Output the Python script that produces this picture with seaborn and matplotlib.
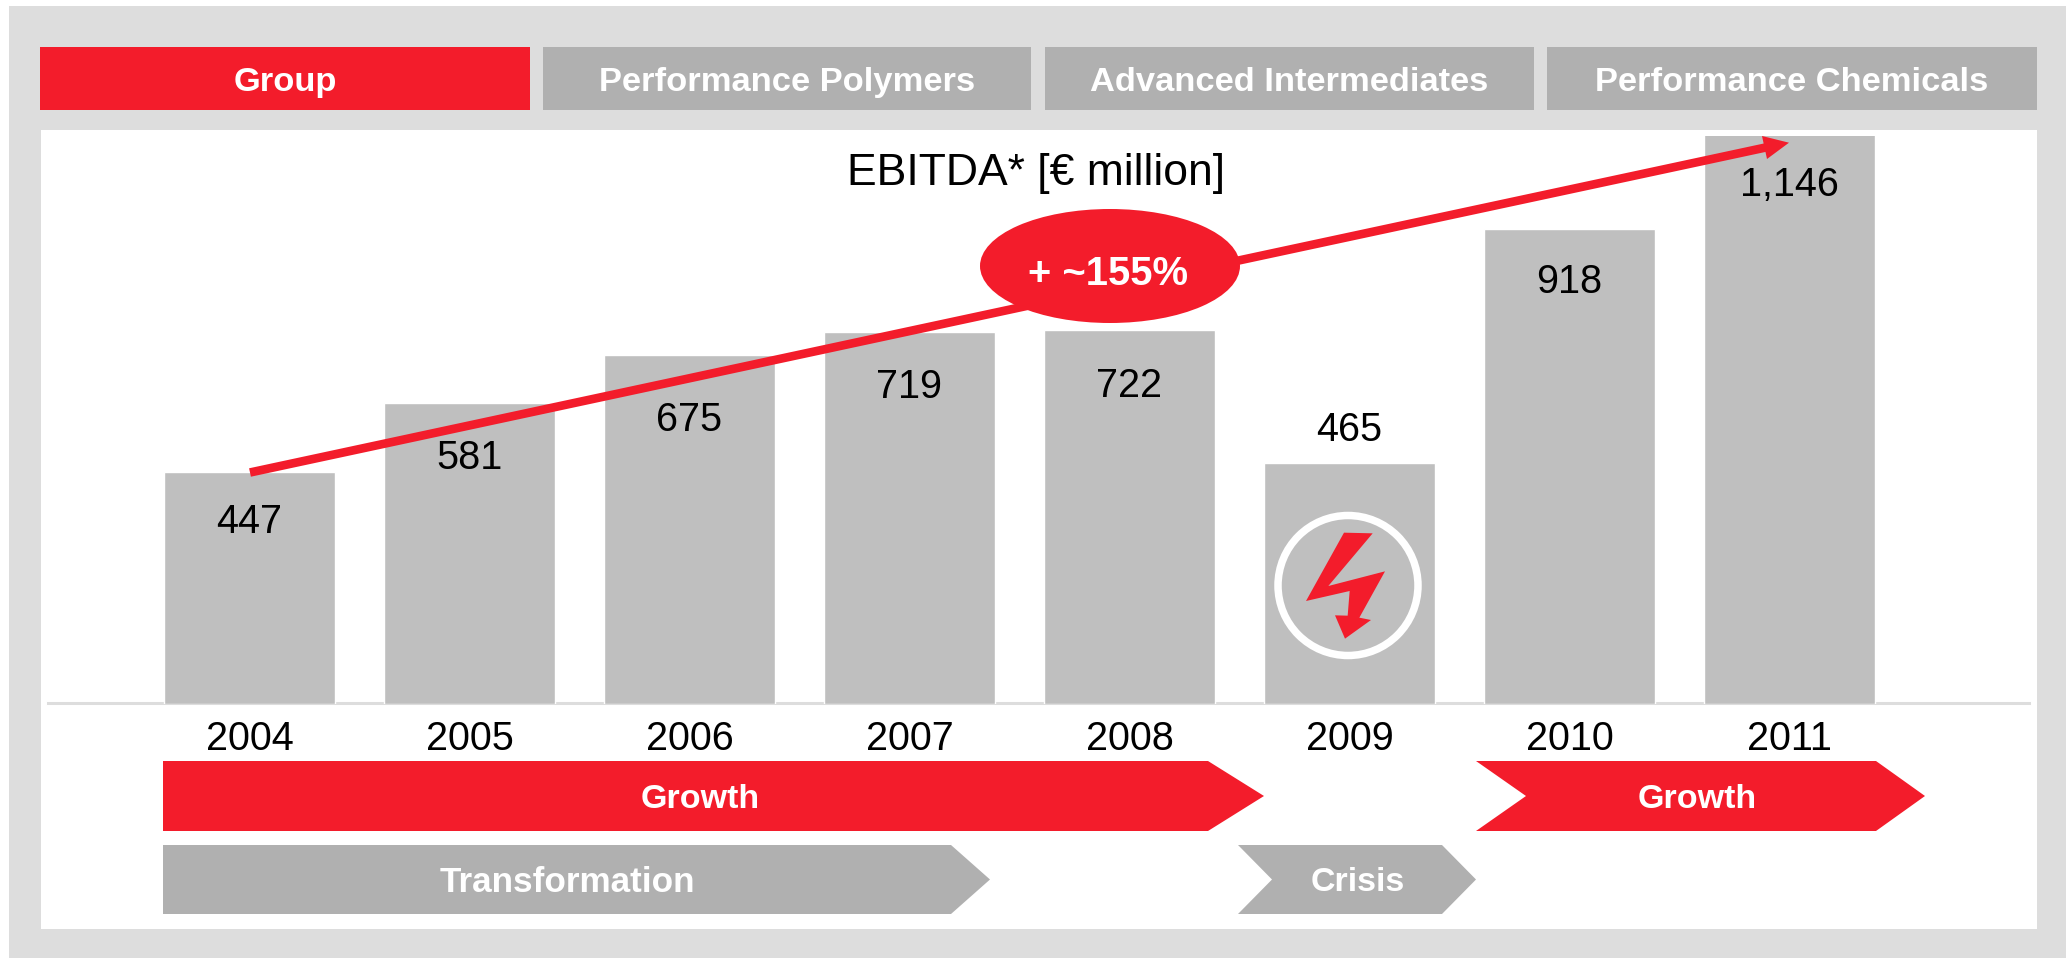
import matplotlib
matplotlib.use("Agg")
import matplotlib.pyplot as plt
from matplotlib.patches import Polygon, Ellipse, Circle, Rectangle
import seaborn as sns

years = ["2004", "2005", "2006", "2007", "2008", "2009", "2010", "2011"]
ebitda = [447, 581, 675, 719, 722, 465, 918, 1146]
tabs = ["Group", "Performance Polymers", "Advanced Intermediates", "Performance Chemicals"]
title = "EBITDA* [€ million]"
callout = "+ ~155%"
label_y_px = [522, 458, 420, 387, 386, 430, 282, 185]

RED = "#F31C2B"
BAR = "#BFBFBF"
TAB = "#B0B0B0"
FRAME = "#DDDDDD"

sns.set_theme(style="white")
plt.rcParams["font.family"] = ["Liberation Sans", "DejaVu Sans"]
W, H = 2071, 958
fig = plt.figure(figsize=(W / 100, H / 100), dpi=100, facecolor="white")

def pixel_axes(z):
    a = fig.add_axes([0, 0, 1, 1], zorder=z)
    a.set_xlim(0, W); a.set_ylim(H, 0); a.axis("off"); a.patch.set_alpha(0)
    return a

bg = pixel_axes(0)
bg.add_patch(Rectangle((9, 6), 2057, 952, fc=FRAME, ec="none"))
bg.add_patch(Rectangle((41, 130), 1996, 799, fc="white", ec="none"))

# bars
x0, x1, top, base, c0, step = 48, 2029, 136, 703.5, 249.5, 220
ax = fig.add_axes([x0 / W, 1 - base / H, (x1 - x0) / W, (base - top) / H], zorder=1)
ax.patch.set_alpha(0)
sns.barplot(x=years, y=ebitda, color=BAR, saturation=1, width=0.775, ax=ax)
ax.set_xlim((x0 - c0) / step, (x1 - c0) / step)
ax.set_ylim(0, (base - top) / 0.517)
ax.set_yticks([])
ax.set_xlabel(""); ax.set_ylabel("")
for s in ["top", "left", "right"]:
    ax.spines[s].set_visible(False)
sp = ax.spines["bottom"]
sp.set_color(FRAME); sp.set_linewidth(2.2); sp.set_zorder(0.5); sp.set_position(("outward", -0.6))
ax.tick_params(axis="x", length=0, pad=12.2, labelsize=28.5, labelcolor="black")

ov = pixel_axes(2)
# value labels
for i, (v, y) in enumerate(zip(ebitda, label_y_px)):
    ov.text(c0 - 0.5 + step * i, y, f"{v:,}", ha="center", va="center", fontsize=28.5, color="black")
ov.text(1036, 173, title, ha="center", va="center", fontsize=32, color="black")

# tabs
tab_x = [(40, 530), (543, 1031), (1045, 1534), (1547, 2037)]
for i, (name, (a, b)) in enumerate(zip(tabs, tab_x)):
    ov.add_patch(Rectangle((a, 47), b - a, 63, fc=RED if i == 0 else TAB, ec="none"))
    ov.text((a + b) / 2, 82, name, ha="center", va="center", fontsize=24.8, fontweight="bold", color="white")

# trend arrow + callout
ov.plot([250, 1768], [472.5, 147], color=RED, lw=6.2, solid_capstyle="butt")
ov.add_patch(Polygon([(1789, 142.7), (1762, 136), (1767, 159)], fc=RED, ec="none"))
ov.add_patch(Ellipse((1110, 266), 260, 114, fc=RED, ec="none"))
ov.text(1108, 274, callout, ha="center", va="center", fontsize=28.8, fontweight="bold", color="white")

# crisis icon
ov.add_patch(Circle((1348, 585.5), 70, fc="none", ec="white", lw=5.4))
bolt = [(432, 278), (518, 280), (385, 438), (555, 394), (478, 533), (513, 540), (435, 596),
        (405, 526), (443, 527), (449, 453), (318, 483)]
ov.add_patch(Polygon([(1200 + p / 3, 440 + q / 3) for p, q in bolt], fc=RED, ec="none"))

# phase arrows
def chevron(l, notch, sh, tip, t, b, color, text, tx, fs=24.5):
    m = (t + b) / 2
    pts = [(l, t), (sh, t), (tip, m), (sh, b), (l, b)]
    if notch:
        pts.append((notch, m))
    ov.add_patch(Polygon(pts, fc=color, ec="none"))
    ov.text(tx, m + 3, text, ha="center", va="center", fontsize=fs, fontweight="bold", color="white")

chevron(163, None, 1208, 1264, 761, 831, RED, "Growth", 700)
chevron(1476, 1526, 1876, 1925, 761, 831, RED, "Growth", 1697)
chevron(163, None, 951, 990, 845, 914, TAB, "Transformation", 567, fs=25.3)
chevron(1238, 1272, 1442, 1476, 845, 914, TAB, "Crisis", 1358)

fig.savefig("out.png", dpi=100, facecolor="white")
